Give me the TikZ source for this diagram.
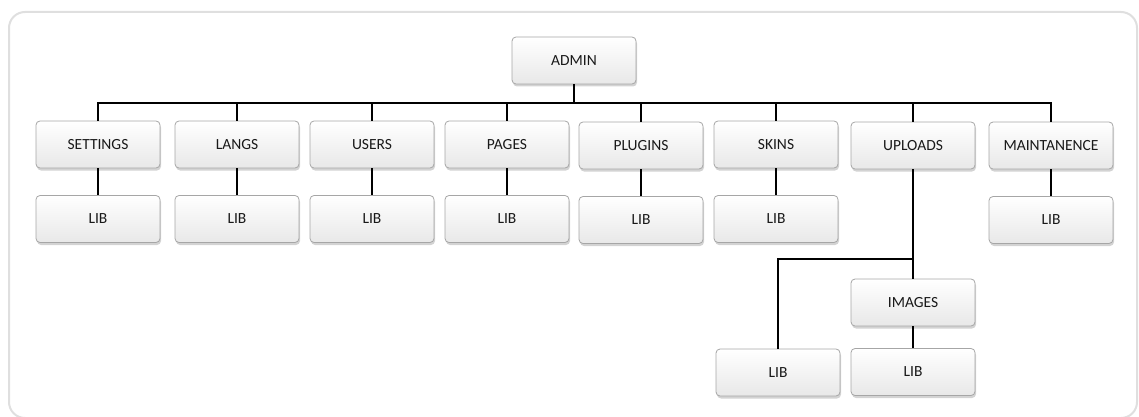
\documentclass[tikz,border=0pt]{standalone}
\usepackage{fontspec}
\setmainfont{Carlito}
\usetikzlibrary{shadows}

\begin{document}
\begin{tikzpicture}[x=1pt,y=-1pt,
  box/.style={draw=gray!70,line width=0.8pt,rounded corners=4pt,
    minimum width=124pt,minimum height=47pt,inner sep=0pt,
    top color=white,bottom color=gray!18,
    drop shadow={opacity=0.35,shadow xshift=1pt,shadow yshift=-2.5pt},
    font=\fontsize{15.5}{18}\selectfont,text=black!90},
  link/.style={line width=1.8pt,black}]
   \useasboundingbox (0,0) rectangle (1139,417);
   \draw[gray!25,line width=2pt,rounded corners=16pt] (9,12) rectangle (1137,418);
   % top
   \node[box] (admin) at (574,60.5) {ADMIN};
   % sections
   \node[box] (settings) at (98,144.5)  {SETTINGS};
   \node[box] (langs)    at (237,144.5) {LANGS};
   \node[box] (users)    at (372,144.5) {USERS};
   \node[box] (pages)    at (507,144.5) {PAGES};
   \node[box] (plugins)  at (641,145.5) {PLUGINS};
   \node[box] (skins)    at (776,144.5) {SKINS};
   \node[box] (uploads)  at (913,145.5) {UPLOADS};
   \node[box] (maint)    at (1051,145.5) {MAINTANENCE};
   % libs
   \node[box] (settingslib) at (98,219)  {LIB};
   \node[box] (langslib)    at (237,219) {LIB};
   \node[box] (userslib)    at (372,219) {LIB};
   \node[box] (pageslib)    at (507,219) {LIB};
   \node[box] (pluginslib)  at (641,220) {LIB};
   \node[box] (skinslib)    at (776,219) {LIB};
   \node[box] (maintlib)    at (1051,220) {LIB};
   \node[box] (images)      at (913,302.5) {IMAGES};
   \node[box] (uploadslib)  at (778,372.5) {LIB};
   \node[box] (imageslib)   at (913,372) {LIB};
   % lines
   \coordinate (bus) at (574,103);
   \coordinate (split) at (913,259);
   \draw[link] (admin) -- (bus);
   \foreach \n in {settings,langs,users,pages,plugins,skins,uploads,maint}
     \draw[link] (bus) -| (\n);
   \draw[link] (settings) -- (settingslib);
   \draw[link] (langs) -- (langslib);
   \draw[link] (users) -- (userslib);
   \draw[link] (pages) -- (pageslib);
   \draw[link] (plugins) -- (pluginslib);
   \draw[link] (skins) -- (skinslib);
   \draw[link] (maint) -- (maintlib);
   \draw[link] (uploads) -- (images);
   \draw[link] (split) -| (uploadslib);
   \draw[link] (images) -- (imageslib);
\end{tikzpicture}
\end{document}
